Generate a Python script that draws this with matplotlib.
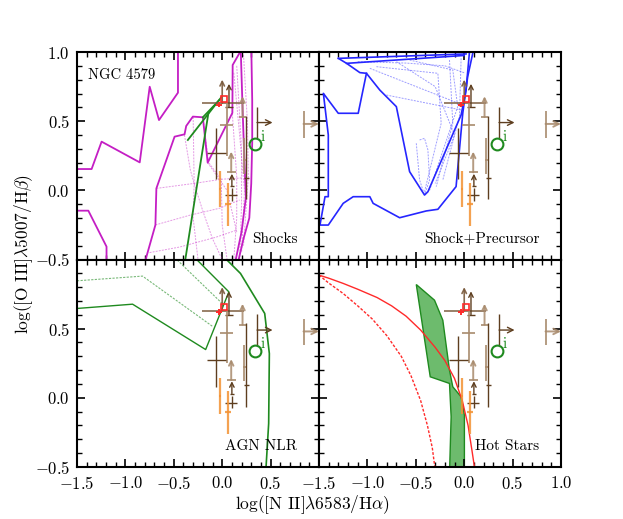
import numpy as np
import matplotlib
matplotlib.use("Agg")
import matplotlib.pyplot as plt
from matplotlib.ticker import MultipleLocator, FuncFormatter

plt.rcParams.update({
    "font.family": "serif",
    "font.serif": ["cmr10", "DejaVu Serif"],
    "mathtext.fontset": "cm",
    "axes.formatter.use_mathtext": True,
})

# ---- observed points (same in every panel) ----
pt_x = [0.00, 0.07, 0.05, 0.21, 0.25, 0.23, 0.36, 0.84, -0.06, 0.093, 0.10, 0.10, -0.025, 0.06]
pt_y = [0.63, 0.60, 0.47, 0.53, 0.09, 0.22, 0.49, 0.48, 0.27, 0.13, 0.03, -0.035, 0.01, -0.10]
pt_xlo = [0.21, 0.04, 0.07, 0.035, 0.03, 0.02, 0.0, 0.0, 0.10, 0.045, 0.02, 0.07, 0.01, 0.035]
pt_xhi = [0.22, 0.04, 0.06, 0.035, 0.03, 0.02, 0.0, 0.0, 0.10, 0.045, 0.02, 0.05, 0.01, 0.035]
pt_ylo = [0.0, 0.0, 0.22, 0.0, 0.155, 0.10, 0.115, 0.10, 0.19, 0.0, 0.0, 0.04, 0.13, 0.16]
pt_yhi = [0.0, 0.0, 0.17, 0.0, 0.45, 0.16, 0.115, 0.09, 0.18, 0.0, 0.0, 0.05, 0.13, 0.15]
pt_kind = ["mid", "dark", "tan", "tan", "dark", "tan", "dark", "tan", "dark", "tan", "dark", "dark",
           "orange", "orange"]
pt_up = [0.17, 0.17, 0.0, 0.15, 0.0, 0.0, 0.0, 0.0, 0.0, 0.15, 0.09, 0.0, 0.0, 0.0]
pt_right = [0.0, 0.0, 0.0, 0.0, 0.0, 0.0, 0.16, 0.16, 0.0, 0.0, 0.0, 0.0, 0.0, 0.0]

nuc_x, nuc_y = -0.03, 0.62
nuc_sq_x, nuc_sq_y = 0.02, 0.66
circ_x, circ_y = 0.343, 0.337

# ---- Shocks panel ----
sh1_x = [-1.5, -1.349, -1.246, -0.852, -0.749, -0.653, -0.457, -0.457]
sh1_y = [0.154, 0.154, 0.352, 0.202, 0.749, 0.508, 0.706, 1.05]
sh2_x = [-1.5, -1.383, -1.195, -1.195]
sh2_y = [-0.147, -0.147, -0.407, -0.55]
sh3_x = [-0.80, -0.783, -0.69, -0.68, -0.492, -0.389, -0.372, -0.303, -0.20, -0.15, 0.105, 0.108, 0.177, 0.19]
sh3_y = [-0.55, -0.48, -0.25, 0.014, 0.388, 0.405, 0.465, 0.533, 0.528, 0.20, 0.56, 0.906, 0.99, 1.05]
sh4_x = [0.19, 0.21, 0.23, 0.245, 0.20, 0.14, 0.12]
sh4_y = [1.05, 0.6, 0.2, -0.05, -0.3, -0.5, -0.55]
sh5_x = [0.30, 0.31, 0.31, 0.30, 0.28, 0.22, 0.17, 0.16]
sh5_y = [1.05, 0.65, 0.35, 0.05, -0.2, -0.35, -0.5, -0.55]
sh_grid = [
    ([-0.68, -0.29, -0.01, 0.21], [0.014, 0.05, 0.08, 0.09]),
    ([-0.69, -0.335, -0.03, 0.18], [-0.25, -0.18, -0.13, -0.07]),
    ([-0.75, -0.44, -0.07, 0.14], [-0.45, -0.41, -0.34, -0.29]),
    ([-0.39, -0.33, -0.29, -0.2, -0.1, 0.0], [0.40, 0.15, 0.05, -0.15, -0.35, -0.5]),
    ([-0.2, -0.14, -0.01, 0.0, 0.05], [0.53, 0.2, 0.08, -0.25, -0.5]),
    ([-0.30, -0.29, -0.30, -0.25], [0.53, 0.05, -0.2, -0.5]),
    ([0.10, 0.15, 0.15, 0.12], [0.60, 0.1, -0.2, -0.5]),
    ([0.15, 0.2, 0.2, 0.18], [0.90, 0.3, -0.1, -0.5]),
    ([0.22, 0.26, 0.27, 0.22], [0.98, 0.5, 0.1, -0.4]),
    ([0.12, 0.18, 0.23, 0.20], [0.85, 0.4, 0.0, -0.45]),
    ([-0.15, 0.05, 0.15], [0.20, 0.0, -0.3]),
]
shg1_x, shg1_y = [-0.355, -0.005], [0.364, 0.677]
shg2_x, shg2_y = [-0.20, -0.029], [0.528, 0.653]
shg3_x, shg3_y = [-0.142, -0.379, -0.39], [0.561, -0.49, -0.55]

# ---- Shock+Precursor panel ----
sp_out_x = [-1.010, -1.095, -1.301, -1.455, -1.404, -1.404, -1.438, -1.490, -1.404, -1.25, -1.147,
            -0.975, -0.941, -0.667, -0.392, -0.272, -0.084, -0.015, 0.036, 0.088, 0.095]
sp_out_y = [0.846, 0.557, 0.557, 0.701, 0.40, -0.046, -0.046, -0.251, -0.251, -0.094, -0.046,
            -0.046, -0.094, -0.198, -0.149, -0.137, 0.027, 0.557, 0.822, 0.99, 1.05]
sp_in_x = [-1.30, -1.215, -1.078, -1.010, -0.872, -0.701, -0.564, -0.41, -0.375, -0.032, 0.019, 0.053, 0.058]
sp_in_y = [0.954, 0.918, 0.851, 0.846, 0.725, 0.605, 0.135, -0.034, -0.01, 0.545, 0.725, 0.99, 1.05]
sp_top_x = [-1.30, 0.019]
sp_top_y = [0.954, 0.986]
sp_top2_x = [-1.215, 0.0]
sp_top2_y = [0.918, 0.975]
sp_grid = [
    ([-0.975, -0.015], [0.882, 0.617]),
    ([-0.907, -0.272, -0.238, -0.41], [0.894, 0.846, 0.484, -0.01]),
    ([-0.804, -0.032], [0.689, 0.581]),
    ([-0.564, -0.118, -0.067, -0.358], [0.942, 0.870, 0.605, 0.0]),
    ([-0.461, -0.41, -0.375, -0.358, -0.41], [0.364, 0.376, 0.292, 0.075, -0.034]),
    ([-0.495, -0.461, -0.41], [0.34, 0.075, -0.034]),
    ([-0.152, -0.118, -0.289], [0.942, 0.484, 0.027]),
    ([-0.032, -0.049, -0.221], [0.954, 0.533, 0.075]),
    ([-1.1, -0.6, -0.2, 0.0], [0.93, 0.92, 0.90, 0.85]),
    ([-0.7, -0.3, -0.1, -0.3], [0.93, 0.75, 0.4, 0.05]),
]

# ---- AGN NLR panel ----
agn1_x = [-1.5, -0.926, -0.171, 0.069, -0.257, -0.28]
agn1_y = [0.646, 0.677, 0.349, 0.766, 0.995, 1.02]
agn2_x = [0.04, 0.051, 0.189, 0.439, 0.487, 0.48, 0.453, 0.45]
agn2_y = [1.02, 0.995, 0.899, 0.610, 0.32, -0.186, -0.499, -0.55]
agn3_x = [-1.5, -0.823, -0.103]
agn3_y = [0.846, 0.88, 0.518]
agn4_x = [-0.48, -0.463, 0.0]
agn4_y = [1.02, 0.995, 0.682]

# ---- Hot Stars panel ----
hs_fill_x = [-0.495, -0.307, -0.221, -0.152, -0.118, -0.032, 0.002, 0.002, -0.152, -0.135, -0.152, -0.351]
hs_fill_y = [0.819, 0.706, 0.561, 0.2, 0.08, 0.007, -0.125, -0.55, -0.55, -0.137, 0.104, 0.152]
hs_red1_x = [-1.5, -1.4, -1.25, -1.1, -0.9, -0.75, -0.6, -0.45, -0.3, -0.2, -0.1, -0.02, 0.04, 0.08, 0.11]
hs_red1_y = [0.887, 0.865, 0.827, 0.785, 0.725, 0.665, 0.59, 0.49, 0.365, 0.27, 0.14, -0.02, -0.2, -0.38, -0.52]
hs_red2_x = [-1.5, -1.4, -1.25, -1.1, -0.95, -0.8, -0.65, -0.55, -0.45, -0.38, -0.33, -0.30]
hs_red2_y = [0.887, 0.83, 0.754, 0.665, 0.57, 0.45, 0.30, 0.16, -0.02, -0.2, -0.36, -0.52]

C_DARK = "#5e3e1f"
C_MID = "#7a5a3c"
C_TAN = "#a88a6c"
C_ORANGE = "#f39233"
C_MAG = "#c41ec4"
C_BLUE = "#2626ff"
C_GREEN = "#1f8a1f"
C_RED = "#ff2a2a"
DOT = (0, (2.0, 1.2))


def tick_fmt(hidden):
    def f(v, pos):
        if abs(v) < 1e-9:
            v = 0.0
        if any(abs(v - h) < 1e-6 for h in hidden):
            return ""
        return "$%.1f$" % v
    return FuncFormatter(f)


def draw_points(ax):
    kind_style = {
        "dark": dict(color=C_DARK, lw=1.0, alpha=1.0),
        "mid": dict(color=C_MID, lw=1.2, alpha=0.9),
        "tan": dict(color=C_TAN, lw=1.4, alpha=0.85),
        "orange": dict(color=C_ORANGE, lw=1.6, alpha=0.85),
    }
    for i in range(len(pt_x)):
        st = kind_style[pt_kind[i]]
        x, y = pt_x[i], pt_y[i]
        xe = [[pt_xlo[i]], [pt_xhi[i]]] if (pt_xlo[i] + pt_xhi[i]) > 0 else None
        ye = [[pt_ylo[i]], [pt_yhi[i]]] if (pt_ylo[i] + pt_yhi[i]) > 0 else None
        ax.errorbar([x], [y], xerr=xe, yerr=ye, fmt="none", ecolor=st["color"],
                    elinewidth=st["lw"], capsize=0, alpha=st["alpha"], zorder=4)
        if pt_up[i] > 0:
            ax.annotate("", xy=(x, y + pt_up[i]), xytext=(x, y), annotation_clip=False,
                        arrowprops=dict(arrowstyle="->", color=st["color"], lw=st["lw"],
                                        alpha=st["alpha"], shrinkA=0, shrinkB=0,
                                        mutation_scale=8), zorder=4)
        if pt_right[i] > 0:
            ax.annotate("", xy=(x + pt_right[i], y), xytext=(x, y), annotation_clip=False,
                        arrowprops=dict(arrowstyle="->", color=st["color"], lw=st["lw"],
                                        alpha=st["alpha"], shrinkA=0, shrinkB=0,
                                        mutation_scale=10), zorder=4)
    ax.errorbar([nuc_x], [nuc_y], xerr=0.03, yerr=0.02, fmt="none", ecolor=C_RED,
                elinewidth=1.4, capsize=0, zorder=5)
    ax.plot([nuc_sq_x], [nuc_sq_y], marker="s", ms=5, mfc="none", mec=C_RED, mew=1.2,
            ls="none", zorder=5)
    ax.plot([circ_x], [circ_y], marker="o", ms=8.5, mfc="none", mec=C_GREEN, mew=1.5,
            ls="none", zorder=5)
    ax.text(circ_x + 0.05, circ_y + 0.02, "i", color=C_GREEN, fontsize=11, zorder=5)


fig = plt.figure(figsize=(6.23, 5.19), dpi=100)
axs = fig.subplots(2, 2)
fig.subplots_adjust(left=0.1236, right=0.9005, bottom=0.1002, top=0.8998, wspace=0, hspace=0)

for ax in axs.flat:
    ax.set_xlim(-1.5, 1.0)
    ax.set_ylim(-0.5, 1.0)
    ax.xaxis.set_major_locator(MultipleLocator(0.5))
    ax.xaxis.set_minor_locator(MultipleLocator(0.1))
    ax.yaxis.set_major_locator(MultipleLocator(0.5))
    ax.yaxis.set_minor_locator(MultipleLocator(0.1))
    ax.tick_params(which="both", direction="in", top=True, right=True, labelsize=12)
    ax.tick_params(axis="x", which="major", pad=6)
    ax.tick_params(axis="y", which="major", pad=5)
    ax.tick_params(which="major", length=6, width=1.2)
    ax.tick_params(which="minor", length=3.5, width=1.0)
    for sp in ax.spines.values():
        sp.set_linewidth(1.5)

ax_sh, ax_sp = axs[0]
ax_agn, ax_hs = axs[1]

ax_sh.tick_params(labelbottom=False)
ax_sp.tick_params(labelbottom=False, labelleft=False)
ax_hs.tick_params(labelleft=False)
ax_sh.yaxis.set_major_formatter(tick_fmt([]))
ax_agn.yaxis.set_major_formatter(tick_fmt([1.0]))
ax_agn.xaxis.set_major_formatter(tick_fmt([1.0]))
ax_hs.xaxis.set_major_formatter(tick_fmt([]))

# Shocks
for gx, gy in sh_grid:
    ax_sh.plot(gx, gy, color=C_MAG, lw=0.7, ls=DOT, alpha=0.45)
for lx, ly in [(sh1_x, sh1_y), (sh2_x, sh2_y), (sh3_x, sh3_y), (sh4_x, sh4_y), (sh5_x, sh5_y)]:
    ax_sh.plot(lx, ly, color=C_MAG, lw=1.3)
for lx, ly in [(shg1_x, shg1_y), (shg2_x, shg2_y), (shg3_x, shg3_y)]:
    ax_sh.plot(lx, ly, color=C_GREEN, lw=1.3)

# Shock + precursor
for gx, gy in sp_grid:
    ax_sp.plot(gx, gy, color=C_BLUE, lw=0.7, ls=DOT, alpha=0.45)
for lx, ly in [(sp_out_x, sp_out_y), (sp_in_x, sp_in_y), (sp_top_x, sp_top_y), (sp_top2_x, sp_top2_y)]:
    ax_sp.plot(lx, ly, color=C_BLUE, lw=1.2)

# AGN NLR
ax_agn.plot(agn1_x, agn1_y, color=C_GREEN, lw=1.0)
ax_agn.plot(agn2_x, agn2_y, color=C_GREEN, lw=1.2)
ax_agn.plot(agn3_x, agn3_y, color=C_GREEN, lw=0.8, ls=DOT, alpha=0.6)
ax_agn.plot(agn4_x, agn4_y, color=C_GREEN, lw=0.8, ls=DOT, alpha=0.6)

# Hot stars
ax_hs.fill(hs_fill_x, hs_fill_y, facecolor="#6dbb6d", edgecolor=C_GREEN, lw=1.0)
ax_hs.plot(hs_red1_x, hs_red1_y, color=C_RED, lw=1.0)
ax_hs.plot(hs_red2_x, hs_red2_y, color=C_RED, lw=1.0, ls=DOT)

for ax in axs.flat:
    draw_points(ax)

ax_sh.text(0.045, 0.87, "NGC 4579", transform=ax_sh.transAxes, fontsize=10.5)
for ax, lab in [(ax_sh, "Shocks"), (ax_sp, "Shock+Precursor"), (ax_agn, "AGN NLR"), (ax_hs, "Hot Stars")]:
    ax.text(0.91, 0.067, lab, transform=ax.transAxes, fontsize=11, ha="right", va="bottom")

fig.text(0.502, 0.027, r"log([N II]$\lambda$6583/H$\alpha$)", ha="center", va="center", fontsize=12.5)
fig.text(0.038, 0.51, r"log([O III]$\lambda$5007/H$\beta$)", ha="center", va="center",
         rotation=90, fontsize=12.5)

fig.savefig("out.png", dpi=100)
